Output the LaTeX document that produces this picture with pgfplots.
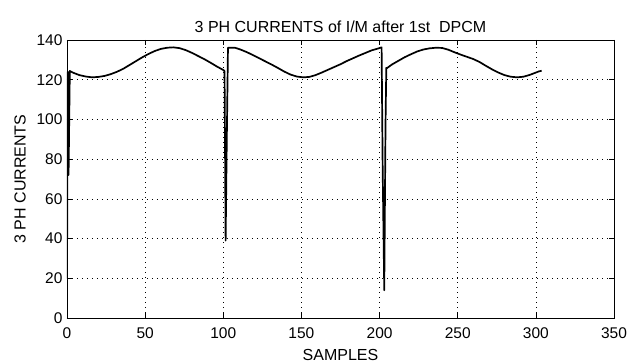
\documentclass[border=0pt]{standalone}
\usepackage{pgfplots}
\pgfplotsset{compat=1.18}
\usepackage{fontspec}
\setmainfont{Liberation Sans}
\begin{document}
\begin{tikzpicture}
\begin{axis}[
  scale only axis,
  width=547pt, height=278pt,
  xmin=0, xmax=350, ymin=0, ymax=140,
  xtick={0,50,...,350}, ytick={0,20,...,140},
  tick align=inside,
  major tick length=5pt,
  axis line style={line width=0.8pt},
  every tick/.style={black, line width=0.6pt},
  grid=major,
  grid style={black, line width=0.6pt, dash pattern=on 0.8pt off 4.2pt},
  /pgf/number format/assume math mode=true,
  ticklabel style={font=\fontsize{15.5}{17}\selectfont},
  xticklabel style={yshift=-6pt},
  yticklabel style={xshift=-1pt},
  title={3 PH CURRENTS of I/M after 1st\ \ DPCM},
  title style={font=\fontsize{16}{18}\selectfont, yshift=-2pt},
  xlabel={SAMPLES},
  ylabel={3 PH CURRENTS},
  xlabel style={font=\fontsize{16}{18}\selectfont, yshift=-4pt},
  ylabel style={font=\fontsize{16}{18}\selectfont, yshift=4pt},
]
\addplot[black, line width=1.7pt, line join=round] coordinates {
(0,20) (0.5,124) (1,72) (1.8,124.4) (4,123.5) (8,122.3) (12,121.6) (16,121.2) (20,121.4) (24,121.9) (28,122.8) (32,124) (36,125.5) (40,127.4) (44,129.3) (48,131.2) (52,132.9) (56,134.4) (60,135.5) (64,136.1) (68,136.3) (72,135.9) (76,134.9) (80,133.5) (84,131.9) (88,130.3) (92,128.5) (96,126.6) (100,124.9) (100.8,124.3) (101.5,39) (102.2,87) (103,136.1)
(107.5,136.1) (111,135.2) (115,133.9) (119,132.4) (123,130.8) (127,129.2) (131,127.6) (135,125.9) (139,124.1) (143,122.6) (147,121.6) (151,121.2) (155,121.4) (159,122.3) (163,123.6) (167,125) (171,126.4) (175,127.8) (179,129.4) (183,130.8) (187,132.2) (191,133.5) (195,134.8) (199,135.7) (201.3,136.3) (202,74) (203,14) (203.8,97) (204.3,126)
(204.5,125.7) (208,127.7) (212,129.5) (216,131.3) (220,132.8) (224,134.2) (228,135.2) (232,135.8) (236,136.1) (240,136) (244,135.1) (248,133.8) (252,132.6) (256,131.5) (260,130.4) (264,128.9) (268,127) (272,125.2) (276,123.6) (280,122.3) (284,121.5) (288,121.2) (292,121.5) (296,122.4) (300,123.6) (302,124.2) (303.7,124.5)
};
\end{axis}
\pgfresetboundingbox
\path[use as bounding box] (-67pt,-45pt) rectangle (563pt,318pt);
\end{tikzpicture}
\end{document}
